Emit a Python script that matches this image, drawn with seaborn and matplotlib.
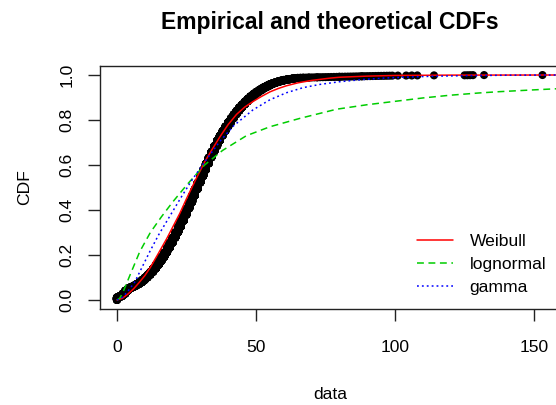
import numpy as np
import seaborn as sns
import matplotlib.pyplot as plt

# --- observed sample as value / count table ---
obs_values = list(range(0, 100)) + [101, 104, 106, 108, 114, 125, 126, 127, 128, 132, 153]
obs_counts = [48, 24, 40, 56, 40, 24, 24, 28, 32, 40,
              44, 48, 52, 60, 64, 68, 72, 80, 84, 88,
              92, 96, 100, 104, 108, 112, 112, 116, 116, 116,
              116, 112, 112, 108, 104, 100, 96, 88, 84, 80,
              76, 72, 68, 64, 60, 52, 52, 48, 44, 40,
              36, 32, 32, 28, 24, 24, 20, 16, 16, 12,
              12, 8, 8, 8, 8, 4,
              2, 2, 1, 2, 1, 1, 2, 1, 1, 1, 1, 1, 1, 1, 2, 1, 1,
              1, 1, 1, 1, 1, 2, 1, 1, 1, 1, 1, 1, 1, 1, 1, 1, 1,
              1, 1, 1, 1, 1, 1, 1, 1, 1, 1, 1]

# --- fitted CDFs ---
weib_x = [0, 2, 4, 6, 8, 10, 12, 14.8, 18, 22.6, 25, 28.3, 31.6, 34, 37, 40, 43, 46,
          48.9, 52, 55, 58, 60.9, 65, 70, 76.5, 80, 90, 100, 120, 160]
weib_y = [0, 0.008, 0.027, 0.05, 0.078, 0.108, 0.145, 0.205, 0.275, 0.385, 0.45, 0.535,
          0.615, 0.665, 0.725, 0.78, 0.825, 0.858, 0.882, 0.905, 0.925, 0.94, 0.952,
          0.965, 0.976, 0.986, 0.99, 0.995, 0.998, 0.9995, 1.0]

lnorm_x = [0, 1, 2, 3.4, 5, 8.2, 12, 16, 20, 25, 31.5, 38, 46.5, 55, 65.7, 79, 90, 100,
           110, 119.7, 130, 137.6, 150, 160]
lnorm_y = [0, 0.008, 0.03, 0.072, 0.12, 0.215, 0.3, 0.37, 0.435, 0.51, 0.6, 0.665, 0.73,
           0.77, 0.807, 0.848, 0.868, 0.883, 0.898, 0.91, 0.92, 0.926, 0.934, 0.94]

gamma_x = [0, 2, 4, 6.4, 9, 11.8, 15, 19.6, 23, 26.8, 31.6, 37, 42, 48.9, 55, 60.9, 67,
           72.9, 80, 88.5, 96.9, 105, 114.9, 125, 140, 160]
gamma_y = [0, 0.012, 0.04, 0.08, 0.145, 0.215, 0.29, 0.385, 0.455, 0.53, 0.615, 0.705,
           0.775, 0.845, 0.89, 0.921, 0.944, 0.958, 0.97, 0.98, 0.987, 0.991, 0.995,
           0.997, 0.999, 1.0]

# --- empirical CDF points ---
sample = np.repeat(obs_values, obs_counts)
n = len(sample)
ecdf_y = (np.arange(1, n + 1) - 0.5) / n

# --- Visualization ---
sns.set_style("white")
plt.rcParams["font.family"] = ["Liberation Sans", "DejaVu Sans"]
plt.rcParams["text.color"] = "black"
plt.rcParams["axes.labelcolor"] = "black"
plt.rcParams["xtick.color"] = "black"
plt.rcParams["ytick.color"] = "black"

fig = plt.figure(figsize=(5.56, 4.05), dpi=100)
ax = fig.add_axes([100 / 556, 96 / 405, 460 / 556, 243 / 405])

sns.scatterplot(x=sample, y=ecdf_y, color="black", s=34, edgecolor="none",
                ax=ax, legend=False, zorder=2)
sns.lineplot(x=weib_x, y=weib_y, color="red", lw=1.1, label="Weibull", ax=ax, zorder=3)
sns.lineplot(x=lnorm_x, y=lnorm_y, color="#00CD00", lw=1.1, linestyle=(0, (4.5, 3)),
             label="lognormal", ax=ax, zorder=3)
sns.lineplot(x=gamma_x, y=gamma_y, color="blue", lw=1.1, linestyle=(0, (1.2, 2)),
             label="gamma", ax=ax, zorder=3)

ax.set_xlim(-6.1, 159.3)
ax.set_ylim(-0.04, 1.04)
ax.set_xticks([0, 50, 100, 150])
ax.set_yticks([0, 0.2, 0.4, 0.6, 0.8, 1.0])
ax.set_yticklabels(["0.0", "0.2", "0.4", "0.6", "0.8", "1.0"])
ax.tick_params(direction="out", length=8.6, width=1, labelsize=12.6, color="#222222",
               left=True, bottom=True)
ax.tick_params(axis="x", pad=13.5)
ax.tick_params(axis="y", pad=9.6)
plt.setp(ax.get_yticklabels(), rotation=90, va="center")
for side in ["left", "bottom", "top", "right"]:
    ax.spines[side].set_color("#222222")
    ax.spines[side].set_linewidth(1)

ax.set_title("Empirical and theoretical CDFs", fontsize=16.5, fontweight="bold", pad=27)
ax.set_xlabel("data", fontsize=12.6, labelpad=23.6)
ax.set_ylabel("CDF", fontsize=12.6, labelpad=19.6)

ax.legend(loc="lower left", bbox_to_anchor=(417 / 556, 110 / 405),
          bbox_transform=fig.transFigure, frameon=False, fontsize=12.6,
          handlelength=2.06, handletextpad=0.95, labelspacing=0.44,
          borderpad=0, borderaxespad=0)

plt.savefig("out.png", dpi=100)
